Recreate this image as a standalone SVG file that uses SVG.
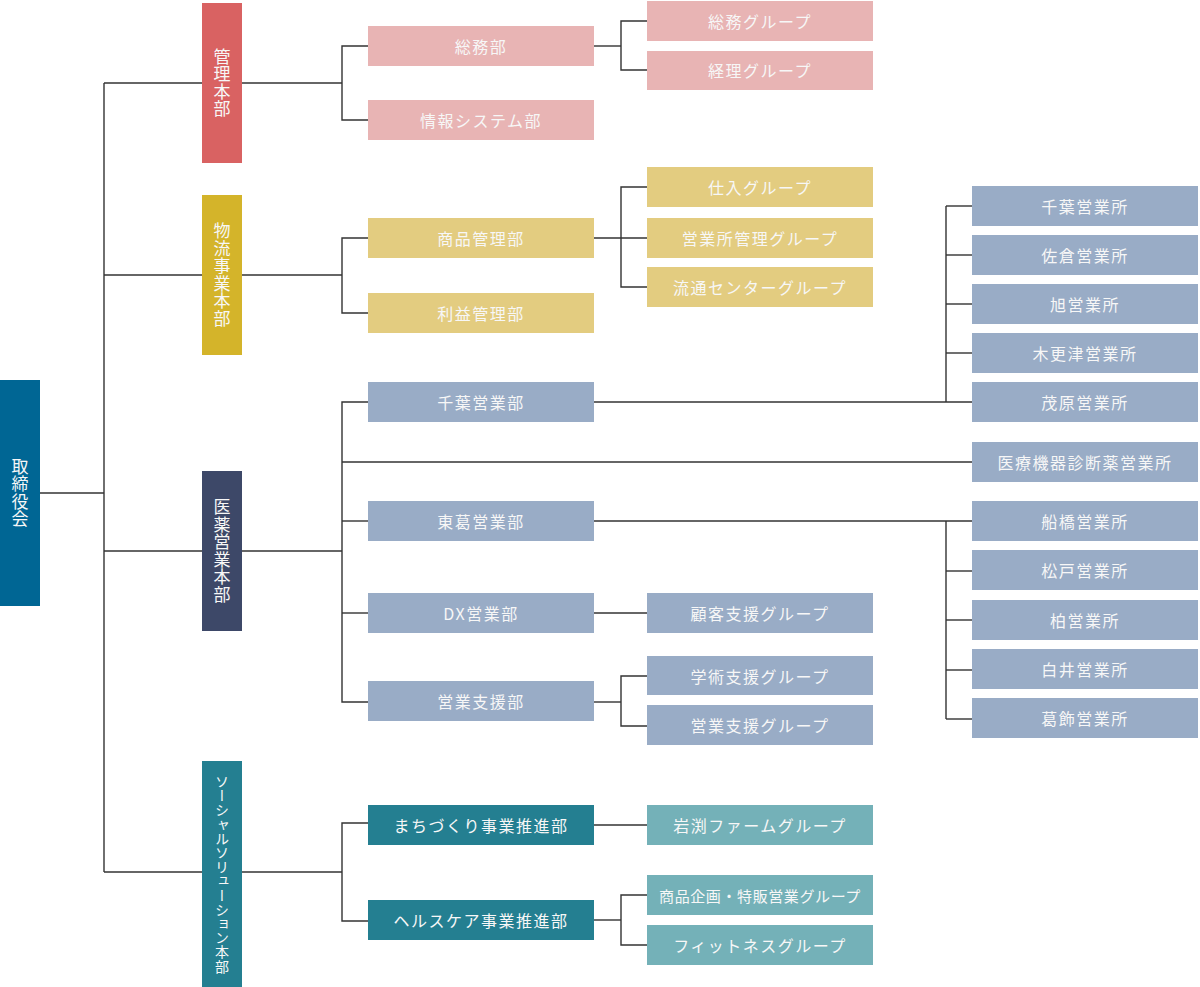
<svg xmlns="http://www.w3.org/2000/svg" width="1200" height="987" viewBox="0 0 1200 987">
<style>
text{font-family:"Noto Sans CJK JP","Noto Sans",sans-serif;fill:#f7f7f7;font-size:16px;letter-spacing:1.5px;text-anchor:middle;dominant-baseline:central}
.v{writing-mode:vertical-rl;font-size:17px;letter-spacing:0.5px}
.vs{writing-mode:vertical-rl;font-size:14px;letter-spacing:0.2px}
.c line,.c polyline{stroke:#333;stroke-width:1.4;fill:none}
.board{fill:#006694}
.hq1{fill:#D96262}.s1{fill:#E8B4B4}
.hq2{fill:#D4B42A}.s2{fill:#E3CC80}
.hq3{fill:#3D4868}.s3{fill:#99ACC6}
.hq4{fill:#247F91}.d4{fill:#247F91}.s4{fill:#74B1B8}
</style>
<g class="c" id="connectors">
<line x1="40" y1="493" x2="104" y2="493"/>
<line x1="104" y1="83" x2="104" y2="872"/>
<line x1="104" y1="83" x2="202" y2="83"/>
<line x1="104" y1="275" x2="202" y2="275"/>
<line x1="104" y1="551" x2="202" y2="551"/>
<line x1="104" y1="872" x2="202" y2="872"/>
<!-- 管理 -->
<line x1="242" y1="83" x2="342" y2="83"/>
<polyline points="368,46 342,46 342,120 368,120"/>
<line x1="594" y1="46" x2="621" y2="46"/>
<polyline points="647,21 621,21 621,70 647,70"/>
<!-- 物流 -->
<line x1="242" y1="275" x2="342" y2="275"/>
<polyline points="368,238 342,238 342,313 368,313"/>
<line x1="594" y1="238" x2="647" y2="238"/>
<polyline points="647,187 621,187 621,287 647,287"/>
<!-- 医薬 -->
<line x1="242" y1="551" x2="342" y2="551"/>
<polyline points="368,402 342,402 342,702 368,702"/>
<line x1="342" y1="462" x2="972" y2="462"/>
<line x1="342" y1="521" x2="368" y2="521"/>
<line x1="342" y1="613" x2="368" y2="613"/>
<line x1="594" y1="402" x2="972" y2="402"/>
<line x1="946" y1="206" x2="946" y2="402"/>
<line x1="946" y1="206" x2="972" y2="206"/>
<line x1="946" y1="255" x2="972" y2="255"/>
<line x1="946" y1="304" x2="972" y2="304"/>
<line x1="946" y1="353" x2="972" y2="353"/>
<line x1="594" y1="521" x2="972" y2="521"/>
<line x1="946" y1="521" x2="946" y2="719"/>
<line x1="946" y1="571" x2="972" y2="571"/>
<line x1="946" y1="620" x2="972" y2="620"/>
<line x1="946" y1="670" x2="972" y2="670"/>
<line x1="946" y1="719" x2="972" y2="719"/>
<line x1="594" y1="613" x2="647" y2="613"/>
<line x1="594" y1="702" x2="621" y2="702"/>
<polyline points="647,676 621,676 621,726 647,726"/>
<!-- ソーシャル -->
<line x1="242" y1="872" x2="342" y2="872"/>
<polyline points="368,823 342,823 342,921 368,921"/>
<line x1="594" y1="825" x2="647" y2="825"/>
<line x1="594" y1="920" x2="621" y2="920"/>
<polyline points="647,895 621,895 621,945 647,945"/>
</g>

<g id="board"><rect class="board" x="0" y="380" width="40" height="226"/><text class="v" x="20" y="493">取締役会</text></g>

<g id="hq-kanri"><rect class="hq1" x="202" y="3" width="40" height="160"/><text class="v" x="222" y="83">管理本部</text></g>
<g id="soumubu"><rect class="s1" x="368" y="26" width="226" height="40"/><text x="481" y="46">総務部</text></g>
<g id="johosys"><rect class="s1" x="368" y="100" width="226" height="40"/><text x="481" y="120">情報システム部</text></g>
<g id="soumu-g"><rect class="s1" x="647" y="1" width="226" height="40"/><text x="760" y="21">総務グループ</text></g>
<g id="keiri-g"><rect class="s1" x="647" y="51" width="226" height="39"/><text x="760" y="70">経理グループ</text></g>

<g id="hq-butsuryu"><rect class="hq2" x="202" y="195" width="40" height="160"/><text class="v" x="222" y="275">物流事業本部</text></g>
<g id="shohin"><rect class="s2" x="368" y="218" width="226" height="40"/><text x="481" y="238">商品管理部</text></g>
<g id="rieki"><rect class="s2" x="368" y="293" width="226" height="40"/><text x="481" y="313">利益管理部</text></g>
<g id="shiire-g"><rect class="s2" x="647" y="167" width="226" height="40"/><text x="760" y="187">仕入グループ</text></g>
<g id="eigyosho-g"><rect class="s2" x="647" y="218" width="226" height="40"/><text x="760" y="238">営業所管理グループ</text></g>
<g id="ryutsu-g"><rect class="s2" x="647" y="267" width="226" height="40"/><text x="760" y="287">流通センターグループ</text></g>

<g id="hq-iyaku"><rect class="hq3" x="202" y="471" width="40" height="160"/><text class="v" x="222" y="551">医薬営業本部</text></g>
<g id="chiba-bu"><rect class="s3" x="368" y="382" width="226" height="40"/><text x="481" y="402">千葉営業部</text></g>
<g id="tokatsu-bu"><rect class="s3" x="368" y="501" width="226" height="40"/><text x="481" y="521">東葛営業部</text></g>
<g id="dx-bu"><rect class="s3" x="368" y="593" width="226" height="40"/><text x="481" y="613">DX営業部</text></g>
<g id="shien-bu"><rect class="s3" x="368" y="681" width="226" height="40"/><text x="481" y="701">営業支援部</text></g>
<g id="kokyaku-g"><rect class="s3" x="647" y="593" width="226" height="40"/><text x="760" y="613">顧客支援グループ</text></g>
<g id="gakujutsu-g"><rect class="s3" x="647" y="656" width="226" height="39"/><text x="760" y="676">学術支援グループ</text></g>
<g id="eigyoshien-g"><rect class="s3" x="647" y="705" width="226" height="40"/><text x="760" y="725">営業支援グループ</text></g>
<g id="chiba-sho"><rect class="s3" x="972" y="186" width="226" height="40"/><text x="1085" y="206">千葉営業所</text></g>
<g id="sakura-sho"><rect class="s3" x="972" y="235" width="226" height="40"/><text x="1085" y="255">佐倉営業所</text></g>
<g id="asahi-sho"><rect class="s3" x="972" y="284" width="226" height="40"/><text x="1085" y="304">旭営業所</text></g>
<g id="kisarazu-sho"><rect class="s3" x="972" y="333" width="226" height="40"/><text x="1085" y="353">木更津営業所</text></g>
<g id="mobara-sho"><rect class="s3" x="972" y="382" width="226" height="40"/><text x="1085" y="402">茂原営業所</text></g>
<g id="iryo-sho"><rect class="s3" x="972" y="442" width="226" height="40"/><text x="1085" y="462">医療機器診断薬営業所</text></g>
<g id="funabashi-sho"><rect class="s3" x="972" y="501" width="226" height="40"/><text x="1085" y="521">船橋営業所</text></g>
<g id="matsudo-sho"><rect class="s3" x="972" y="550" width="226" height="40"/><text x="1085" y="570">松戸営業所</text></g>
<g id="kashiwa-sho"><rect class="s3" x="972" y="600" width="226" height="40"/><text x="1085" y="620">柏営業所</text></g>
<g id="shiroi-sho"><rect class="s3" x="972" y="649" width="226" height="40"/><text x="1085" y="669">白井営業所</text></g>
<g id="katsushika-sho"><rect class="s3" x="972" y="698" width="226" height="40"/><text x="1085" y="718">葛飾営業所</text></g>

<g id="hq-social"><rect class="hq4" x="202" y="761" width="40" height="226"/><text class="vs" x="222" y="874">ソーシャルソリューション本部</text></g>
<g id="machi-bu"><rect class="d4" x="368" y="805" width="226" height="40"/><text x="481" y="825">まちづくり事業推進部</text></g>
<g id="health-bu"><rect class="d4" x="368" y="900" width="226" height="40"/><text x="481" y="920">ヘルスケア事業推進部</text></g>
<g id="iwabuchi-g"><rect class="s4" x="647" y="805" width="226" height="40"/><text x="760" y="825">岩渕ファームグループ</text></g>
<g id="kikaku-g"><rect class="s4" x="647" y="875" width="226" height="40"/><text x="760" y="895" style="font-size:15px;letter-spacing:0.6px">商品企画・特販営業グループ</text></g>
<g id="fitness-g"><rect class="s4" x="647" y="925" width="226" height="40"/><text x="760" y="945">フィットネスグループ</text></g>
</svg>
